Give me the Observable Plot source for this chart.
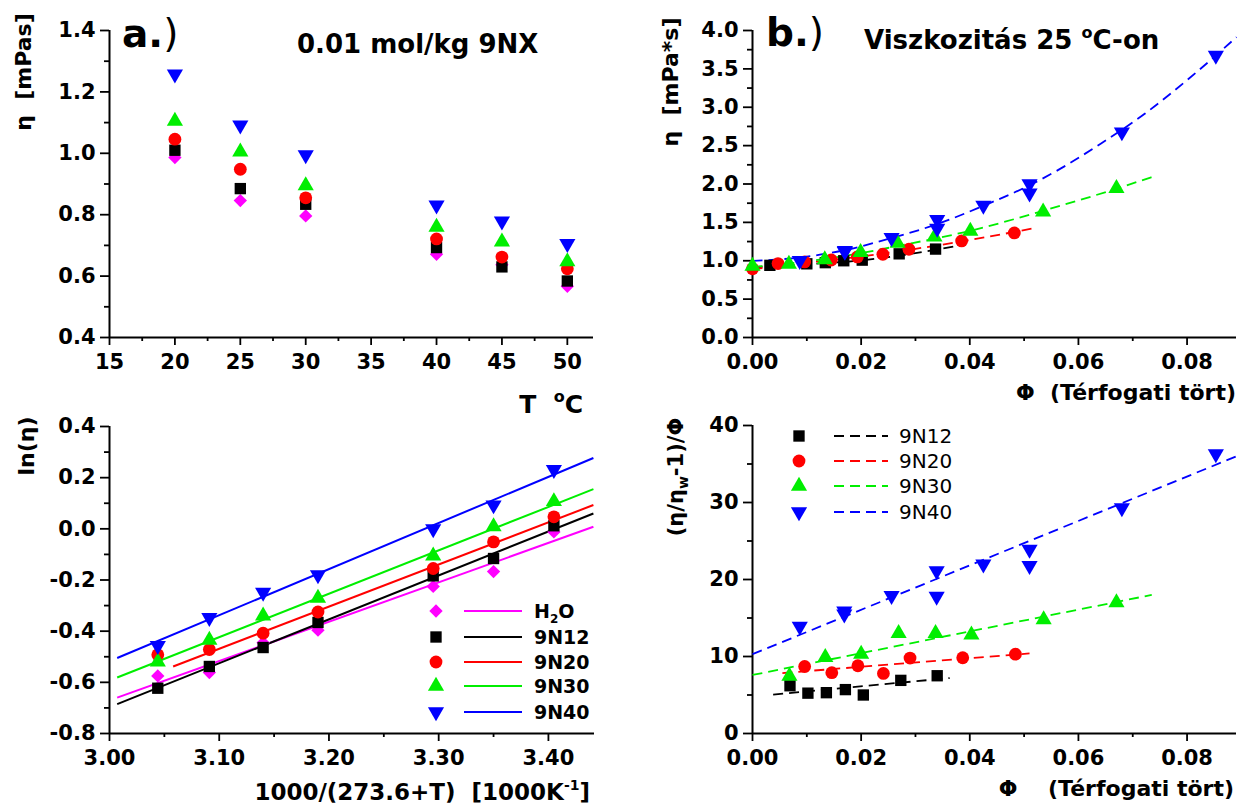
<!DOCTYPE html>
<html><head><meta charset="utf-8">
<script src="https://cdn.jsdelivr.net/npm/d3@7"></script>
<script src="https://cdn.jsdelivr.net/npm/@observablehq/plot@0.6"></script>
<style>
body{margin:0;background:#fff;}
#wrap{position:relative;width:1240px;height:812px;overflow:hidden;background:#fff;}
#wrap > svg{position:absolute;}
</style></head><body><div id="wrap"></div>
<script>
// ---------------- Panel a: eta vs T ----------------
const tempC   = [20, 25, 30, 40, 45, 50];
const etaH2O  = [0.986, 0.846, 0.796, 0.671, 0.637, 0.567];
const eta9N12 = [1.010, 0.885, 0.834, 0.693, 0.630, 0.584];
const eta9N20 = [1.046, 0.948, 0.855, 0.721, 0.662, 0.624];
const eta9N30 = [1.105, 1.005, 0.895, 0.760, 0.712, 0.647];
const eta9N40 = [1.258, 1.092, 0.995, 0.831, 0.779, 0.706];
const aXMajor = [15, 20, 25, 30, 35, 40, 45, 50];
const aXMinor = [17.5, 22.5, 27.5, 32.5, 37.5, 42.5, 47.5];
const aYMajor = [0.4, 0.6, 0.8, 1.0, 1.2, 1.4];
const aYMinor = [0.5, 0.7, 0.9, 1.1, 1.3];

// ---------------- Panel b: eta vs phi (25 C) ----------------
const phiB9N12 = [0.0032, 0.0100, 0.0134, 0.0168, 0.0202, 0.0270, 0.0337];
const etaB9N12 = [0.940, 0.960, 0.975, 1.000, 1.008, 1.090, 1.152];
const phiB9N20 = [0.0, 0.0047, 0.0096, 0.0145, 0.0193, 0.0240, 0.0288, 0.0385, 0.0482];
const etaB9N20 = [0.895, 0.963, 0.985, 1.010, 1.050, 1.085, 1.150, 1.258, 1.362];
const phiB9N30 = [0.0, 0.0067, 0.0133, 0.0199, 0.0267, 0.0335, 0.0401, 0.0535, 0.0670];
const etaB9N30 = [0.930, 0.955, 1.015, 1.110, 1.230, 1.310, 1.385, 1.636, 1.945];
const phiB9N40 = [0.0087, 0.0170, 0.0170, 0.0256, 0.0340, 0.0340, 0.0425, 0.0510, 0.0510, 0.0680, 0.0853];
const etaB9N40 = [1.000, 1.130, 1.120, 1.300, 1.536, 1.420, 1.720, 2.000, 1.880, 2.677, 3.675];
// dashed fit curves
const fitBphi9N12 = [0, 0.010, 0.020, 0.030, 0.037];
const fitBeta9N12 = [0.915, 0.955, 1.005, 1.100, 1.185];
const fitBphi9N20 = [0, 0.010, 0.020, 0.030, 0.040, 0.0515];
const fitBeta9N20 = [0.890, 0.975, 1.055, 1.155, 1.270, 1.420];
const fitBphi9N30 = [0, 0.0066, 0.020, 0.0273, 0.0405, 0.0538, 0.067, 0.0735];
const fitBeta9N30 = [0.920, 0.963, 1.100, 1.200, 1.397, 1.657, 1.939, 2.090];
const fitBphi9N40 = [0, 0.0096, 0.0169, 0.0258, 0.0339, 0.0427, 0.051, 0.0567, 0.0641, 0.0722, 0.0803, 0.0891];
const fitBeta9N40 = [0.998, 1.050, 1.137, 1.300, 1.475, 1.722, 1.983, 2.200, 2.525, 2.915, 3.371, 3.913];
const bXMajor = [0, 0.02, 0.04, 0.06, 0.08];
const bXMinor = [0.01, 0.03, 0.05, 0.07];
const bYMajor = [0, 0.5, 1.0, 1.5, 2.0, 2.5, 3.0, 3.5, 4.0];
const bYMinor = [0.25, 0.75, 1.25, 1.75, 2.25, 2.75, 3.25, 3.75];

// ---------------- Panel c: ln(eta) vs 1000/T ----------------
const invT   = [3.044, 3.091, 3.140, 3.190, 3.295, 3.350, 3.405];
const lnH2O  = [-0.575, -0.562, -0.445, -0.396, -0.225, -0.167, -0.012];
const ln9N12 = [-0.623, -0.538, -0.464, -0.366, -0.184, -0.116, 0.012];
const ln9N20 = [-0.492, -0.472, -0.408, -0.325, -0.155, -0.051, 0.047];
const ln9N30 = [-0.520, -0.435, -0.340, -0.271, -0.106, 0.009, 0.107];
const ln9N40 = [-0.457, -0.347, -0.249, -0.180, 0.000, 0.093, 0.231];
// straight fit lines: end points
const fitCxH2O = [3.007, 3.441], fitCyH2O = [-0.660, 0.008];
const fitCx9N12 = [3.007, 3.441], fitCy9N12 = [-0.685, 0.060];
const fitCx9N20 = [3.058, 3.441], fitCy9N20 = [-0.538, 0.093];
const fitCx9N30 = [3.007, 3.441], fitCy9N30 = [-0.581, 0.155];
const fitCx9N40 = [3.007, 3.441], fitCy9N40 = [-0.505, 0.277];
const cXMajor = [3.0, 3.1, 3.2, 3.3, 3.4];
const cXMinor = [3.05, 3.15, 3.25, 3.35];
const cYMajor = [-0.8, -0.6, -0.4, -0.2, 0.0, 0.2, 0.4];
const cYMinor = [-0.7, -0.5, -0.3, -0.1, 0.1, 0.3];

// ---------------- Panel d: (eta/eta_w - 1)/phi vs phi ----------------
const phiD9N12 = [0.0069, 0.0102, 0.0136, 0.0171, 0.0204, 0.0273, 0.0340];
const redD9N12 = [6.2, 5.24, 5.3, 5.7, 5.0, 6.9, 7.5];
const phiD9N20 = [0.0096, 0.0146, 0.0194, 0.0241, 0.0290, 0.0387, 0.0484];
const redD9N20 = [8.7, 7.9, 8.8, 7.8, 9.8, 9.84, 10.3];
const phiD9N30 = [0.0068, 0.0134, 0.0200, 0.0269, 0.0337, 0.0403, 0.0536, 0.0670];
const redD9N30 = [7.45, 9.9, 10.3, 13.0, 13.0, 12.8, 14.8, 17.0];
const phiD9N40 = [0.0087, 0.0169, 0.0169, 0.0256, 0.0339, 0.0339, 0.0425, 0.0510, 0.0510, 0.0680, 0.0853];
const redD9N40 = [13.9, 15.9, 15.5, 17.9, 21.1, 17.8, 22.0, 23.9, 21.8, 29.3, 36.3];
const fitDx9N12 = [0.0038, 0.0363], fitDy9N12 = [5.05, 7.2];
const fitDx9N20 = [0.0055, 0.0510], fitDy9N20 = [7.85, 10.4];
const fitDx9N30 = [0.0, 0.0735],   fitDy9N30 = [7.6, 18.0];
const fitDx9N40 = [0.0, 0.0891],   fitDy9N40 = [10.3, 36.0];
const dYMajor = [0, 10, 20, 30, 40];
const dYMinor = [5, 15, 25, 35];

// ---------------- styling ----------------
const sqrt3 = Math.sqrt(3);
const triangleDown = {
  draw(context, size) {
    const y = -Math.sqrt(size / (sqrt3 * 3));
    context.moveTo(0, -y * 2);
    context.lineTo(-sqrt3 * y, y);
    context.lineTo(sqrt3 * y, y);
    context.closePath();
  }
};
const S = {
  H2O:  {label: "H2O",  color: "#ff00ff", symbol: "diamond2", d3sym: d3.symbolDiamond2, r: 6.0},
  N12:  {label: "9N12", color: "#000000", symbol: "square",   d3sym: d3.symbolSquare,   r: 6.4},
  N20:  {label: "9N20", color: "#ff0000", symbol: "circle",   d3sym: d3.symbolCircle,   r: 6.4},
  N30:  {label: "9N30", color: "#00ee00", symbol: "triangle", d3sym: d3.symbolTriangle, r: 6.0},
  N40:  {label: "9N40", color: "#0000ff", symbol: triangleDown, d3sym: triangleDown,    r: 6.0}
};
const FONT = "DejaVu Sans, Liberation Sans, Arial, sans-serif";
const rows = (xs, ys) => xs.map((x, i) => ({x, y: ys[i]}));

function dots(xs, ys, s) {
  return Plot.dot(rows(xs, ys), {x: "x", y: "y", symbol: s.symbol, r: s.r, fill: s.color, stroke: "none"});
}
function solid(xs, ys, s) {
  return Plot.line(rows(xs, ys), {x: "x", y: "y", stroke: s.color, strokeWidth: 2, strokeLinecap: "butt"});
}
function dashed(xs, ys, s) {
  return Plot.line(rows(xs, ys), {x: "x", y: "y", stroke: s.color, strokeWidth: 1.8, strokeDasharray: "10,6", strokeLinecap: "butt", curve: "monotone-x"});
}

function panel(o) {
  const svg = Plot.plot({
    width: o.width, height: o.height,
    marginLeft: o.ml, marginRight: o.mr, marginTop: o.mt, marginBottom: o.mb,
    x: {domain: o.xDomain, axis: null, label: null},
    y: {domain: o.yDomain, axis: null, label: null},
    style: {fontFamily: FONT, fontSize: "21px", fontWeight: "bold", color: "#000", background: "transparent"},
    marks: [
      Plot.axisX({ticks: o.xMinor, tickSize: 4, tickFormat: () => "", strokeWidth: 1.8, label: null}),
      Plot.axisX({ticks: o.xMajor, tickSize: 8, tickPadding: 9, tickFormat: o.xFmt, strokeWidth: 1.8, label: null}),
      Plot.axisY({ticks: o.yMinor, tickSize: 5, tickFormat: () => "", strokeWidth: 1.8, label: null}),
      Plot.axisY({ticks: o.yMajor, tickSize: 9, tickPadding: 5, tickFormat: o.yFmt, strokeWidth: 1.8, label: null}),
      Plot.ruleY([o.yDomain[0]], {stroke: "#000", strokeWidth: 2}),
      Plot.ruleX([o.xDomain[0]], {stroke: "#000", strokeWidth: 2}),
      ...o.marks
    ]
  });
  svg.style.left = o.left + "px";
  svg.style.top = o.top + "px";
  svg.style.overflow = "visible";
  document.getElementById("wrap").appendChild(svg);
}

// Panel a
panel({left: 0, top: 0, width: 620, height: 400, ml: 109, mr: 27, mt: 30, mb: 63,
  xDomain: [15, 52.0], yDomain: [0.4, 1.4],
  xMajor: aXMajor, xMinor: aXMinor, yMajor: aYMajor, yMinor: aYMinor,
  xFmt: d => String(d), yFmt: d => d.toFixed(1),
  marks: [
    dots(tempC, etaH2O, S.H2O), dots(tempC, eta9N12, S.N12), dots(tempC, eta9N20, S.N20),
    dots(tempC, eta9N30, S.N30), dots(tempC, eta9N40, S.N40)
  ]});

// Panel b
panel({left: 620, top: 0, width: 620, height: 400, ml: 132, mr: 4, mt: 30, mb: 63,
  xDomain: [0, 0.0891], yDomain: [0, 4],
  xMajor: bXMajor, xMinor: bXMinor, yMajor: bYMajor, yMinor: bYMinor,
  xFmt: d => d.toFixed(2), yFmt: d => d.toFixed(1),
  marks: [
    dashed(fitBphi9N12, fitBeta9N12, S.N12), dashed(fitBphi9N20, fitBeta9N20, S.N20),
    dashed(fitBphi9N30, fitBeta9N30, S.N30), dashed(fitBphi9N40, fitBeta9N40, S.N40),
    dots(phiB9N12, etaB9N12, S.N12), dots(phiB9N20, etaB9N20, S.N20),
    dots(phiB9N30, etaB9N30, S.N30), dots(phiB9N40, etaB9N40, S.N40)
  ]});

// Panel c
panel({left: 0, top: 400, width: 620, height: 412, ml: 109, mr: 26, mt: 26, mb: 79,
  xDomain: [3.0, 3.442], yDomain: [-0.8, 0.4],
  xMajor: cXMajor, xMinor: cXMinor, yMajor: cYMajor, yMinor: cYMinor,
  xFmt: d => d.toFixed(2), yFmt: d => d.toFixed(1),
  marks: [
    solid(fitCxH2O, fitCyH2O, S.H2O), solid(fitCx9N12, fitCy9N12, S.N12), solid(fitCx9N20, fitCy9N20, S.N20),
    solid(fitCx9N30, fitCy9N30, S.N30), solid(fitCx9N40, fitCy9N40, S.N40),
    dots(invT, lnH2O, S.H2O), dots(invT, ln9N12, S.N12), dots(invT, ln9N20, S.N20),
    dots(invT, ln9N30, S.N30), dots(invT, ln9N40, S.N40)
  ]});

// Panel d
panel({left: 620, top: 400, width: 620, height: 412, ml: 132, mr: 4, mt: 25, mb: 79,
  xDomain: [0, 0.0891], yDomain: [0, 40],
  xMajor: bXMajor, xMinor: bXMinor, yMajor: dYMajor, yMinor: dYMinor,
  xFmt: d => d.toFixed(2), yFmt: d => String(d),
  marks: [
    dashed(fitDx9N12, fitDy9N12, S.N12), dashed(fitDx9N20, fitDy9N20, S.N20),
    dashed(fitDx9N30, fitDy9N30, S.N30), dashed(fitDx9N40, fitDy9N40, S.N40),
    dots(phiD9N12, redD9N12, S.N12), dots(phiD9N20, redD9N20, S.N20),
    dots(phiD9N30, redD9N30, S.N30), dots(phiD9N40, redD9N40, S.N40)
  ]});

// ---------------- overlay: titles, axis labels, legends ----------------
const ov = d3.select("#wrap").append("svg")
  .attr("width", 1240).attr("height", 812)
  .style("left", "0px").style("top", "0px").style("pointer-events", "none")
  .style("font-family", FONT).style("fill", "#000");

function txt(x, y, size, weight, anchor, parts, rotate) {
  const t = ov.append("text")
    .attr("font-size", size).attr("font-weight", weight).attr("text-anchor", anchor)
    .style("white-space", "pre");
  if (rotate) t.attr("transform", `translate(${x},${y}) rotate(-90)`);
  else t.attr("x", x).attr("y", y);
  for (const p of parts) {
    const sp = t.append("tspan").text(p.t);
    if (p.size) sp.attr("font-size", p.size);
    if (p.dy) sp.attr("dy", p.dy);
    if (p.w) sp.attr("font-weight", p.w);
  }
  return t;
}

// titles
txt(122, 47, 39, "bold", "start", [{t: "a."}, {t: ")", w: "normal"}]);
txt(297, 53, 26, "bold", "start", [{t: "0.01 mol/kg 9NX"}]);
txt(766, 46, 39, "bold", "start", [{t: "b."}, {t: ")", w: "normal"}]);
txt(864, 49, 26, "bold", "start", [{t: "Viszkozitás 25 "}, {t: "o", size: 16, dy: -11}, {t: "C-on", dy: 11}]);

// axis labels
txt(583, 413, 25, "bold", "end", [{t: "T  "}, {t: "o", size: 16, dy: -11}, {t: "C", dy: 11}]);
txt(1236, 400, 22, "bold", "end", [{t: "Φ  (Térfogati tört)"}]);
txt(590, 800, 23, "bold", "end", [{t: "1000/(273.6+T)  [1000K"}, {t: "-1", size: 14, dy: -10}, {t: "]", dy: 10}]);
txt(1234, 796, 22, "bold", "end", [{t: "Φ    (Térfogati tört)"}]);

txt(31, 72, 22, "bold", "middle", [{t: "η  [mPas]"}], true);
txt(678, 82, 22, "bold", "middle", [{t: "η  [mPa*s]"}], true);
txt(34, 446, 22, "bold", "middle", [{t: "ln(η)"}], true);
txt(683, 477, 21, "bold", "middle", [{t: "(η/η"}, {t: "w", size: 14, dy: 5}, {t: "-1)/Φ", dy: -5}], true);

// legend panel c
const legC = [S.H2O, S.N12, S.N20, S.N30, S.N40];
const legCy = [611, 637, 662, 686, 712];
legC.forEach((s, i) => {
  const y = legCy[i];
  ov.append("path").attr("d", d3.symbol(s.d3sym, s.r * s.r * Math.PI)()).attr("transform", `translate(436,${y})`).attr("fill", s.color);
  ov.append("line").attr("x1", 464).attr("x2", 522).attr("y1", y).attr("y2", y).attr("stroke", s.color).attr("stroke-width", 2);
  if (s.label === "H2O") txt(534, y + 6.5, 19, "bold", "start", [{t: "H"}, {t: "2", size: 12, dy: 5}, {t: "O", dy: -5}]);
  else txt(534, y + 6.5, 19, "bold", "start", [{t: s.label}]);
});

// legend panel d
const legD = [S.N12, S.N20, S.N30, S.N40];
const legDy = [436, 461, 486, 512];
legD.forEach((s, i) => {
  const y = legDy[i];
  ov.append("path").attr("d", d3.symbol(s.d3sym, s.r * s.r * Math.PI)()).attr("transform", `translate(799,${y})`).attr("fill", s.color);
  ov.append("line").attr("x1", 834).attr("x2", 888).attr("y1", y).attr("y2", y).attr("stroke", s.color).attr("stroke-width", 1.8).attr("stroke-dasharray", "10,6");
  txt(899, y + 7, 20, "normal", "start", [{t: s.label}]);
});
</script></body></html>
